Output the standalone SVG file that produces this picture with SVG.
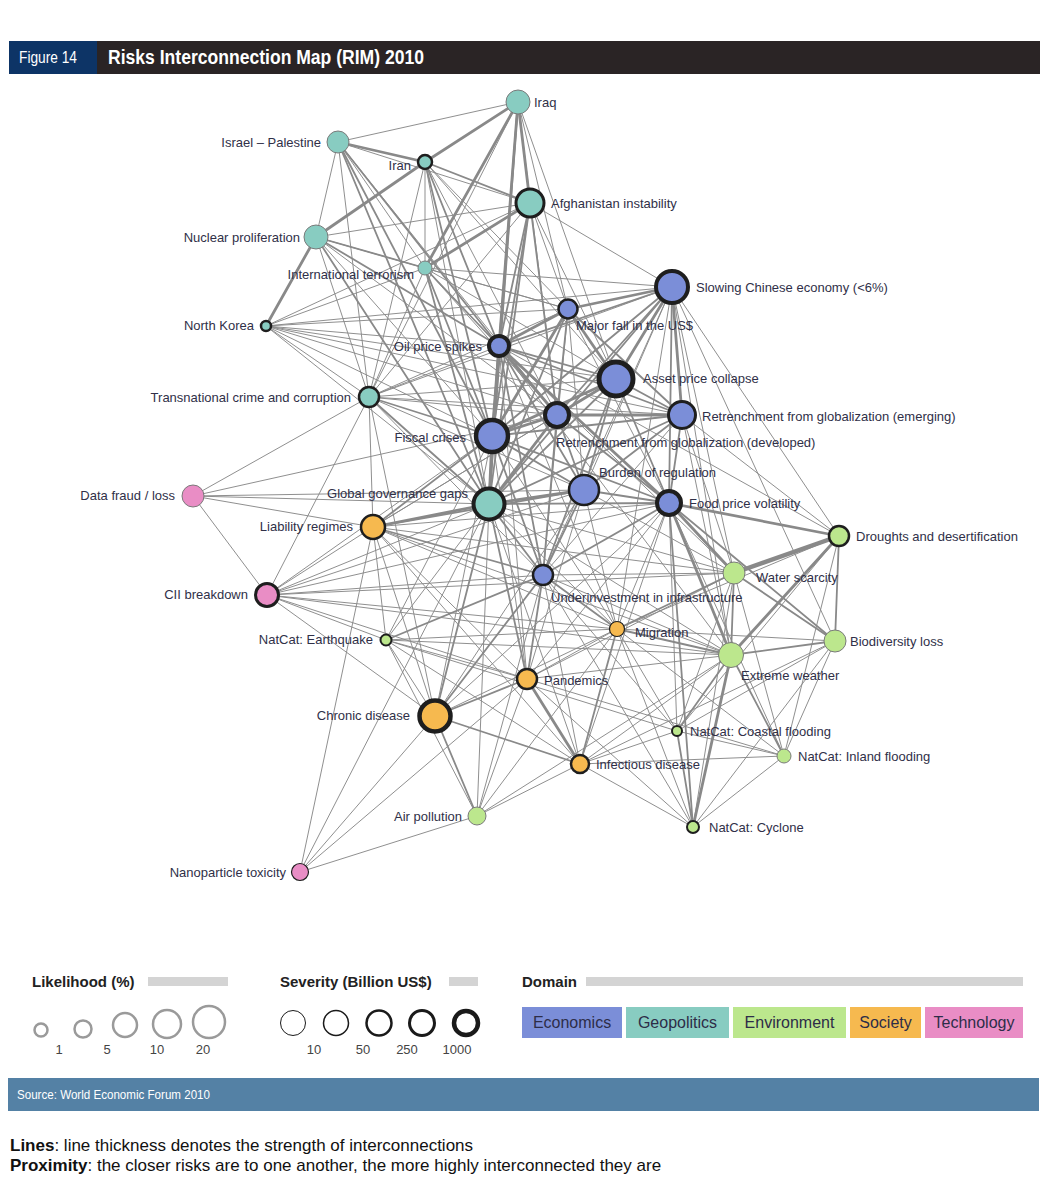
<svg xmlns="http://www.w3.org/2000/svg" width="1059" height="1188" viewBox="0 0 1059 1188">
<style>
text{font-family:"Liberation Sans",Arial,sans-serif;}
.lbl{font-size:13px;fill:#303048;}
.e line{stroke:#898989;stroke-linecap:round;}
.a{stroke-width:0.95}
.b{stroke-width:1.8}
.c{stroke-width:2.8}
.d{stroke-width:4.5}
.eco{fill:#7b8ed8}
.geo{fill:#88ccc1}
.env{fill:#bce78d}
.soc{fill:#f6b94f}
.tec{fill:#e98dc5}
.thin{stroke:#7a7a7a;stroke-width:1}
.dk{stroke:#1e1e1e}
.lh{fill:none;stroke:#9a9a9a;stroke-width:2.5}
.sv{fill:none;stroke:#1a1a1a}
.legt{font-size:15px;font-weight:bold;fill:#222}
.legn{font-size:13px;fill:#444}
.dom{font-size:16px;fill:#2d2d48;text-anchor:middle}
</style>
<rect width="1059" height="1188" fill="#fff"/>
<g id="header">
<rect x="9" y="41" width="1031" height="33" fill="#2a2425"/>
<rect x="9" y="41" width="88" height="33" fill="#0d3466"/>
<text x="19" y="63" font-size="16" fill="#fff" textLength="58" lengthAdjust="spacingAndGlyphs">Figure 14</text>
<text x="108" y="64" font-size="20" font-weight="bold" fill="#fff" textLength="316" lengthAdjust="spacingAndGlyphs">Risks Interconnection Map (RIM) 2010</text>
</g>
<g id="connectors" class="e">
<line class="a" x1="518" y1="102" x2="338" y2="142"/>
<line class="c" x1="518" y1="102" x2="425" y2="162"/>
<line class="c" x1="518" y1="102" x2="530" y2="203"/>
<line class="c" x1="518" y1="102" x2="425" y2="268"/>
<line class="c" x1="518" y1="102" x2="499" y2="346"/>
<line class="a" x1="518" y1="102" x2="568" y2="309"/>
<line class="b" x1="518" y1="102" x2="492" y2="436"/>
<line class="a" x1="518" y1="102" x2="557" y2="415"/>
<line class="a" x1="518" y1="102" x2="616" y2="379"/>
<line class="b" x1="518" y1="102" x2="489" y2="504"/>
<line class="a" x1="518" y1="102" x2="369" y2="397"/>
<line class="c" x1="338" y1="142" x2="425" y2="162"/>
<line class="a" x1="338" y1="142" x2="316" y2="237"/>
<line class="a" x1="338" y1="142" x2="425" y2="268"/>
<line class="b" x1="338" y1="142" x2="499" y2="346"/>
<line class="b" x1="338" y1="142" x2="492" y2="436"/>
<line class="b" x1="338" y1="142" x2="489" y2="504"/>
<line class="a" x1="338" y1="142" x2="369" y2="397"/>
<line class="a" x1="338" y1="142" x2="557" y2="415"/>
<line class="a" x1="338" y1="142" x2="530" y2="203"/>
<line class="c" x1="425" y1="162" x2="316" y2="237"/>
<line class="b" x1="425" y1="162" x2="530" y2="203"/>
<line class="a" x1="425" y1="162" x2="425" y2="268"/>
<line class="b" x1="425" y1="162" x2="499" y2="346"/>
<line class="b" x1="425" y1="162" x2="492" y2="436"/>
<line class="a" x1="425" y1="162" x2="489" y2="504"/>
<line class="a" x1="425" y1="162" x2="568" y2="309"/>
<line class="a" x1="425" y1="162" x2="369" y2="397"/>
<line class="a" x1="425" y1="162" x2="616" y2="379"/>
<line class="a" x1="425" y1="162" x2="557" y2="415"/>
<line class="a" x1="530" y1="203" x2="316" y2="237"/>
<line class="c" x1="530" y1="203" x2="425" y2="268"/>
<line class="b" x1="530" y1="203" x2="499" y2="346"/>
<line class="b" x1="530" y1="203" x2="492" y2="436"/>
<line class="b" x1="530" y1="203" x2="489" y2="504"/>
<line class="a" x1="530" y1="203" x2="568" y2="309"/>
<line class="b" x1="530" y1="203" x2="557" y2="415"/>
<line class="a" x1="530" y1="203" x2="369" y2="397"/>
<line class="a" x1="530" y1="203" x2="266" y2="326"/>
<line class="a" x1="530" y1="203" x2="672" y2="287"/>
<line class="a" x1="530" y1="203" x2="616" y2="379"/>
<line class="c" x1="316" y1="237" x2="266" y2="326"/>
<line class="b" x1="316" y1="237" x2="425" y2="268"/>
<line class="a" x1="316" y1="237" x2="369" y2="397"/>
<line class="b" x1="316" y1="237" x2="499" y2="346"/>
<line class="a" x1="316" y1="237" x2="492" y2="436"/>
<line class="b" x1="316" y1="237" x2="489" y2="504"/>
<line class="a" x1="316" y1="237" x2="568" y2="309"/>
<line class="a" x1="316" y1="237" x2="557" y2="415"/>
<line class="a" x1="425" y1="268" x2="369" y2="397"/>
<line class="b" x1="425" y1="268" x2="499" y2="346"/>
<line class="b" x1="425" y1="268" x2="492" y2="436"/>
<line class="b" x1="425" y1="268" x2="489" y2="504"/>
<line class="a" x1="425" y1="268" x2="266" y2="326"/>
<line class="a" x1="425" y1="268" x2="557" y2="415"/>
<line class="a" x1="425" y1="268" x2="616" y2="379"/>
<line class="a" x1="425" y1="268" x2="568" y2="309"/>
<line class="a" x1="425" y1="268" x2="672" y2="287"/>
<line class="a" x1="266" y1="326" x2="499" y2="346"/>
<line class="a" x1="266" y1="326" x2="492" y2="436"/>
<line class="a" x1="266" y1="326" x2="489" y2="504"/>
<line class="a" x1="266" y1="326" x2="369" y2="397"/>
<line class="a" x1="266" y1="326" x2="568" y2="309"/>
<line class="a" x1="266" y1="326" x2="672" y2="287"/>
<line class="a" x1="266" y1="326" x2="557" y2="415"/>
<line class="a" x1="266" y1="326" x2="616" y2="379"/>
<line class="a" x1="266" y1="326" x2="682" y2="415"/>
<line class="a" x1="369" y1="397" x2="193" y2="496"/>
<line class="a" x1="369" y1="397" x2="267" y2="595"/>
<line class="a" x1="369" y1="397" x2="373" y2="527"/>
<line class="b" x1="369" y1="397" x2="492" y2="436"/>
<line class="b" x1="369" y1="397" x2="489" y2="504"/>
<line class="a" x1="369" y1="397" x2="499" y2="346"/>
<line class="a" x1="369" y1="397" x2="616" y2="379"/>
<line class="a" x1="369" y1="397" x2="557" y2="415"/>
<line class="a" x1="369" y1="397" x2="682" y2="415"/>
<line class="a" x1="369" y1="397" x2="584" y2="490"/>
<line class="a" x1="369" y1="397" x2="672" y2="287"/>
<line class="a" x1="369" y1="397" x2="568" y2="309"/>
<line class="a" x1="369" y1="397" x2="543" y2="575"/>
<line class="a" x1="369" y1="397" x2="435" y2="716"/>
<line class="c" x1="672" y1="287" x2="568" y2="309"/>
<line class="b" x1="672" y1="287" x2="499" y2="346"/>
<line class="c" x1="672" y1="287" x2="616" y2="379"/>
<line class="c" x1="672" y1="287" x2="682" y2="415"/>
<line class="b" x1="672" y1="287" x2="557" y2="415"/>
<line class="b" x1="672" y1="287" x2="492" y2="436"/>
<line class="b" x1="672" y1="287" x2="489" y2="504"/>
<line class="a" x1="672" y1="287" x2="584" y2="490"/>
<line class="b" x1="672" y1="287" x2="669" y2="503"/>
<line class="a" x1="672" y1="287" x2="543" y2="575"/>
<line class="a" x1="672" y1="287" x2="839" y2="536"/>
<line class="a" x1="672" y1="287" x2="734" y2="573"/>
<line class="a" x1="672" y1="287" x2="731" y2="655"/>
<line class="a" x1="672" y1="287" x2="617" y2="629"/>
<line class="a" x1="672" y1="287" x2="835" y2="641"/>
<line class="c" x1="568" y1="309" x2="499" y2="346"/>
<line class="c" x1="568" y1="309" x2="616" y2="379"/>
<line class="b" x1="568" y1="309" x2="557" y2="415"/>
<line class="c" x1="568" y1="309" x2="492" y2="436"/>
<line class="b" x1="568" y1="309" x2="682" y2="415"/>
<line class="b" x1="568" y1="309" x2="489" y2="504"/>
<line class="a" x1="568" y1="309" x2="584" y2="490"/>
<line class="a" x1="568" y1="309" x2="669" y2="503"/>
<line class="a" x1="568" y1="309" x2="543" y2="575"/>
<line class="b" x1="499" y1="346" x2="616" y2="379"/>
<line class="c" x1="499" y1="346" x2="557" y2="415"/>
<line class="c" x1="499" y1="346" x2="492" y2="436"/>
<line class="c" x1="499" y1="346" x2="489" y2="504"/>
<line class="b" x1="499" y1="346" x2="682" y2="415"/>
<line class="c" x1="499" y1="346" x2="669" y2="503"/>
<line class="b" x1="499" y1="346" x2="584" y2="490"/>
<line class="b" x1="499" y1="346" x2="543" y2="575"/>
<line class="a" x1="499" y1="346" x2="734" y2="573"/>
<line class="a" x1="499" y1="346" x2="731" y2="655"/>
<line class="a" x1="499" y1="346" x2="617" y2="629"/>
<line class="a" x1="499" y1="346" x2="527" y2="679"/>
<line class="a" x1="499" y1="346" x2="839" y2="536"/>
<line class="c" x1="616" y1="379" x2="557" y2="415"/>
<line class="c" x1="616" y1="379" x2="492" y2="436"/>
<line class="b" x1="616" y1="379" x2="682" y2="415"/>
<line class="b" x1="616" y1="379" x2="489" y2="504"/>
<line class="b" x1="616" y1="379" x2="584" y2="490"/>
<line class="b" x1="616" y1="379" x2="669" y2="503"/>
<line class="b" x1="616" y1="379" x2="543" y2="575"/>
<line class="a" x1="616" y1="379" x2="373" y2="527"/>
<line class="c" x1="557" y1="415" x2="492" y2="436"/>
<line class="c" x1="557" y1="415" x2="682" y2="415"/>
<line class="c" x1="557" y1="415" x2="489" y2="504"/>
<line class="b" x1="557" y1="415" x2="584" y2="490"/>
<line class="b" x1="557" y1="415" x2="669" y2="503"/>
<line class="b" x1="557" y1="415" x2="543" y2="575"/>
<line class="a" x1="557" y1="415" x2="373" y2="527"/>
<line class="b" x1="682" y1="415" x2="492" y2="436"/>
<line class="b" x1="682" y1="415" x2="489" y2="504"/>
<line class="b" x1="682" y1="415" x2="669" y2="503"/>
<line class="b" x1="682" y1="415" x2="584" y2="490"/>
<line class="a" x1="682" y1="415" x2="543" y2="575"/>
<line class="a" x1="682" y1="415" x2="839" y2="536"/>
<line class="a" x1="682" y1="415" x2="734" y2="573"/>
<line class="a" x1="682" y1="415" x2="731" y2="655"/>
<line class="c" x1="492" y1="436" x2="489" y2="504"/>
<line class="b" x1="492" y1="436" x2="584" y2="490"/>
<line class="b" x1="492" y1="436" x2="669" y2="503"/>
<line class="b" x1="492" y1="436" x2="543" y2="575"/>
<line class="b" x1="492" y1="436" x2="373" y2="527"/>
<line class="a" x1="492" y1="436" x2="527" y2="679"/>
<line class="a" x1="492" y1="436" x2="435" y2="716"/>
<line class="a" x1="492" y1="436" x2="617" y2="629"/>
<line class="a" x1="492" y1="436" x2="267" y2="595"/>
<line class="a" x1="492" y1="436" x2="386" y2="640"/>
<line class="c" x1="489" y1="504" x2="584" y2="490"/>
<line class="b" x1="489" y1="504" x2="669" y2="503"/>
<line class="c" x1="489" y1="504" x2="373" y2="527"/>
<line class="b" x1="489" y1="504" x2="543" y2="575"/>
<line class="b" x1="489" y1="504" x2="527" y2="679"/>
<line class="b" x1="489" y1="504" x2="435" y2="716"/>
<line class="a" x1="489" y1="504" x2="617" y2="629"/>
<line class="a" x1="489" y1="504" x2="580" y2="764"/>
<line class="a" x1="489" y1="504" x2="731" y2="655"/>
<line class="a" x1="489" y1="504" x2="734" y2="573"/>
<line class="a" x1="489" y1="504" x2="267" y2="595"/>
<line class="a" x1="489" y1="504" x2="386" y2="640"/>
<line class="a" x1="489" y1="504" x2="193" y2="496"/>
<line class="a" x1="489" y1="504" x2="477" y2="816"/>
<line class="a" x1="489" y1="504" x2="300" y2="872"/>
<line class="b" x1="584" y1="490" x2="669" y2="503"/>
<line class="b" x1="584" y1="490" x2="543" y2="575"/>
<line class="b" x1="584" y1="490" x2="373" y2="527"/>
<line class="a" x1="584" y1="490" x2="435" y2="716"/>
<line class="a" x1="584" y1="490" x2="527" y2="679"/>
<line class="a" x1="584" y1="490" x2="617" y2="629"/>
<line class="a" x1="584" y1="490" x2="193" y2="496"/>
<line class="a" x1="584" y1="490" x2="267" y2="595"/>
<line class="a" x1="584" y1="490" x2="734" y2="573"/>
<line class="b" x1="669" y1="503" x2="543" y2="575"/>
<line class="c" x1="669" y1="503" x2="839" y2="536"/>
<line class="c" x1="669" y1="503" x2="734" y2="573"/>
<line class="c" x1="669" y1="503" x2="731" y2="655"/>
<line class="b" x1="669" y1="503" x2="835" y2="641"/>
<line class="a" x1="669" y1="503" x2="617" y2="629"/>
<line class="b" x1="669" y1="503" x2="693" y2="827"/>
<line class="a" x1="669" y1="503" x2="677" y2="731"/>
<line class="a" x1="669" y1="503" x2="784" y2="756"/>
<line class="a" x1="669" y1="503" x2="527" y2="679"/>
<line class="a" x1="669" y1="503" x2="580" y2="764"/>
<line class="a" x1="669" y1="503" x2="435" y2="716"/>
<line class="a" x1="669" y1="503" x2="373" y2="527"/>
<line class="a" x1="543" y1="575" x2="734" y2="573"/>
<line class="a" x1="543" y1="575" x2="731" y2="655"/>
<line class="b" x1="543" y1="575" x2="617" y2="629"/>
<line class="b" x1="543" y1="575" x2="527" y2="679"/>
<line class="b" x1="543" y1="575" x2="435" y2="716"/>
<line class="a" x1="543" y1="575" x2="580" y2="764"/>
<line class="b" x1="543" y1="575" x2="373" y2="527"/>
<line class="b" x1="543" y1="575" x2="386" y2="640"/>
<line class="a" x1="543" y1="575" x2="267" y2="595"/>
<line class="a" x1="543" y1="575" x2="677" y2="731"/>
<line class="a" x1="543" y1="575" x2="693" y2="827"/>
<line class="a" x1="543" y1="575" x2="477" y2="816"/>
<line class="d" x1="839" y1="536" x2="734" y2="573"/>
<line class="c" x1="839" y1="536" x2="731" y2="655"/>
<line class="b" x1="839" y1="536" x2="835" y2="641"/>
<line class="a" x1="839" y1="536" x2="617" y2="629"/>
<line class="a" x1="839" y1="536" x2="677" y2="731"/>
<line class="a" x1="839" y1="536" x2="784" y2="756"/>
<line class="b" x1="734" y1="573" x2="731" y2="655"/>
<line class="b" x1="734" y1="573" x2="835" y2="641"/>
<line class="b" x1="734" y1="573" x2="617" y2="629"/>
<line class="a" x1="734" y1="573" x2="784" y2="756"/>
<line class="a" x1="734" y1="573" x2="677" y2="731"/>
<line class="a" x1="734" y1="573" x2="693" y2="827"/>
<line class="a" x1="734" y1="573" x2="527" y2="679"/>
<line class="a" x1="734" y1="573" x2="373" y2="527"/>
<line class="a" x1="734" y1="573" x2="267" y2="595"/>
<line class="b" x1="835" y1="641" x2="731" y2="655"/>
<line class="a" x1="835" y1="641" x2="784" y2="756"/>
<line class="a" x1="835" y1="641" x2="677" y2="731"/>
<line class="a" x1="835" y1="641" x2="693" y2="827"/>
<line class="a" x1="835" y1="641" x2="617" y2="629"/>
<line class="a" x1="835" y1="641" x2="580" y2="764"/>
<line class="b" x1="731" y1="655" x2="677" y2="731"/>
<line class="b" x1="731" y1="655" x2="784" y2="756"/>
<line class="c" x1="731" y1="655" x2="693" y2="827"/>
<line class="b" x1="731" y1="655" x2="617" y2="629"/>
<line class="a" x1="731" y1="655" x2="580" y2="764"/>
<line class="a" x1="731" y1="655" x2="527" y2="679"/>
<line class="a" x1="731" y1="655" x2="386" y2="640"/>
<line class="a" x1="731" y1="655" x2="373" y2="527"/>
<line class="a" x1="731" y1="655" x2="477" y2="816"/>
<line class="b" x1="677" y1="731" x2="693" y2="827"/>
<line class="a" x1="677" y1="731" x2="784" y2="756"/>
<line class="a" x1="677" y1="731" x2="580" y2="764"/>
<line class="a" x1="677" y1="731" x2="617" y2="629"/>
<line class="a" x1="677" y1="731" x2="386" y2="640"/>
<line class="a" x1="784" y1="756" x2="693" y2="827"/>
<line class="a" x1="784" y1="756" x2="580" y2="764"/>
<line class="a" x1="784" y1="756" x2="527" y2="679"/>
<line class="a" x1="784" y1="756" x2="617" y2="629"/>
<line class="a" x1="693" y1="827" x2="580" y2="764"/>
<line class="a" x1="693" y1="827" x2="617" y2="629"/>
<line class="a" x1="693" y1="827" x2="527" y2="679"/>
<line class="a" x1="386" y1="640" x2="267" y2="595"/>
<line class="a" x1="386" y1="640" x2="373" y2="527"/>
<line class="a" x1="386" y1="640" x2="435" y2="716"/>
<line class="a" x1="386" y1="640" x2="527" y2="679"/>
<line class="a" x1="386" y1="640" x2="617" y2="629"/>
<line class="a" x1="386" y1="640" x2="580" y2="764"/>
<line class="a" x1="386" y1="640" x2="477" y2="816"/>
<line class="c" x1="527" y1="679" x2="580" y2="764"/>
<line class="b" x1="527" y1="679" x2="435" y2="716"/>
<line class="a" x1="527" y1="679" x2="617" y2="629"/>
<line class="a" x1="527" y1="679" x2="373" y2="527"/>
<line class="a" x1="527" y1="679" x2="477" y2="816"/>
<line class="a" x1="527" y1="679" x2="267" y2="595"/>
<line class="a" x1="527" y1="679" x2="300" y2="872"/>
<line class="b" x1="435" y1="716" x2="580" y2="764"/>
<line class="b" x1="435" y1="716" x2="477" y2="816"/>
<line class="a" x1="435" y1="716" x2="300" y2="872"/>
<line class="a" x1="435" y1="716" x2="373" y2="527"/>
<line class="a" x1="435" y1="716" x2="617" y2="629"/>
<line class="a" x1="435" y1="716" x2="267" y2="595"/>
<line class="a" x1="580" y1="764" x2="477" y2="816"/>
<line class="b" x1="580" y1="764" x2="617" y2="629"/>
<line class="a" x1="580" y1="764" x2="373" y2="527"/>
<line class="a" x1="477" y1="816" x2="617" y2="629"/>
<line class="a" x1="477" y1="816" x2="300" y2="872"/>
<line class="a" x1="373" y1="527" x2="267" y2="595"/>
<line class="a" x1="373" y1="527" x2="193" y2="496"/>
<line class="a" x1="373" y1="527" x2="617" y2="629"/>
<line class="a" x1="373" y1="527" x2="300" y2="872"/>
<line class="a" x1="617" y1="629" x2="267" y2="595"/>
<line class="a" x1="193" y1="496" x2="557" y2="415"/>
<line class="a" x1="193" y1="496" x2="267" y2="595"/>
<line class="a" x1="267" y1="595" x2="731" y2="655"/>
<line class="a" x1="267" y1="595" x2="669" y2="503"/>
</g>
<g id="n-iraq"><circle class="geo thin" cx="518" cy="102" r="12"/><text class="lbl" x="534" y="107">Iraq</text></g>
<g id="n-israel"><circle class="geo thin" cx="338" cy="142" r="11"/><text class="lbl" x="321" y="147" text-anchor="end">Israel – Palestine</text></g>
<g id="n-iran"><circle class="geo dk" stroke-width="2.5" cx="425" cy="162" r="7"/><text class="lbl" x="411" y="170" text-anchor="end">Iran</text></g>
<g id="n-afghanistan"><circle class="geo dk" stroke-width="3" cx="530" cy="203" r="14"/><text class="lbl" x="551" y="208">Afghanistan instability</text></g>
<g id="n-nuclear"><circle class="geo thin" cx="316" cy="237" r="12"/><text class="lbl" x="300" y="242" text-anchor="end">Nuclear proliferation</text></g>
<g id="n-terrorism"><circle class="geo thin" cx="425" cy="268" r="7"/><text class="lbl" x="414" y="279" text-anchor="end">International terrorism</text></g>
<g id="n-northkorea"><circle class="geo dk" stroke-width="2.5" cx="266" cy="326" r="5"/><text class="lbl" x="254" y="330" text-anchor="end">North Korea</text></g>
<g id="n-crime"><circle class="geo dk" stroke-width="2.5" cx="369" cy="397" r="10"/><text class="lbl" x="351" y="402" text-anchor="end">Transnational crime and corruption</text></g>
<g id="n-governance"><circle class="geo dk" stroke-width="4" cx="489" cy="504" r="15.5"/><text class="lbl" x="468" y="498" text-anchor="end">Global governance gaps</text></g>
<g id="n-china"><circle class="eco dk" stroke-width="4" cx="672" cy="287" r="16"/><text class="lbl" x="696" y="292">Slowing Chinese economy (&lt;6%)</text></g>
<g id="n-usd"><circle class="eco dk" stroke-width="2.5" cx="568" cy="309" r="9.5"/><text class="lbl" x="576" y="330">Major fall in the US$</text></g>
<g id="n-oil"><circle class="eco dk" stroke-width="4" cx="499" cy="346" r="10"/><text class="lbl" x="482" y="351" text-anchor="end">Oil price spikes</text></g>
<g id="n-asset"><circle class="eco dk" stroke-width="5" cx="616" cy="379" r="17"/><text class="lbl" x="643" y="383">Asset price collapse</text></g>
<g id="n-retrench-em"><circle class="eco dk" stroke-width="3" cx="682" cy="415" r="13.5"/><text class="lbl" x="702" y="421">Retrenchment from globalization (emerging)</text></g>
<g id="n-retrench-dev"><circle class="eco dk" stroke-width="4" cx="557" cy="415" r="12"/><text class="lbl" x="556" y="447">Retrenchment from globalization (developed)</text></g>
<g id="n-fiscal"><circle class="eco dk" stroke-width="4.5" cx="492" cy="436" r="16"/><text class="lbl" x="466" y="442" text-anchor="end">Fiscal crises</text></g>
<g id="n-regulation"><circle class="eco dk" stroke-width="2.5" cx="584" cy="490" r="15"/><text class="lbl" x="599" y="477">Burden of regulation</text></g>
<g id="n-food"><circle class="eco dk" stroke-width="4" cx="669" cy="503" r="12"/><text class="lbl" x="689" y="508">Food price volatility</text></g>
<g id="n-infra"><circle class="eco dk" stroke-width="2.5" cx="543" cy="575" r="10"/><text class="lbl" x="551" y="602">Underinvestment in infrastructure</text></g>
<g id="n-droughts"><circle class="env dk" stroke-width="2.5" cx="839" cy="536" r="10"/><text class="lbl" x="856" y="541">Droughts and desertification</text></g>
<g id="n-water"><circle class="env thin" cx="734" cy="573" r="11"/><text class="lbl" x="756" y="582">Water scarcity</text></g>
<g id="n-biodiversity"><circle class="env thin" cx="835" cy="641" r="11"/><text class="lbl" x="850" y="646">Biodiversity loss</text></g>
<g id="n-weather"><circle class="env thin" cx="731" cy="655" r="12.5"/><text class="lbl" x="741" y="680">Extreme weather</text></g>
<g id="n-coastal"><circle class="env dk" stroke-width="2" cx="677" cy="731" r="5"/><text class="lbl" x="690" y="736">NatCat: Coastal flooding</text></g>
<g id="n-inland"><circle class="env thin" cx="784" cy="756" r="7"/><text class="lbl" x="798" y="761">NatCat: Inland flooding</text></g>
<g id="n-cyclone"><circle class="env dk" stroke-width="2" cx="693" cy="827" r="6"/><text class="lbl" x="709" y="832">NatCat: Cyclone</text></g>
<g id="n-earthquake"><circle class="env dk" stroke-width="2" cx="386" cy="640" r="5.5"/><text class="lbl" x="373" y="644" text-anchor="end">NatCat: Earthquake</text></g>
<g id="n-air"><circle class="env thin" cx="477" cy="816" r="9"/><text class="lbl" x="462" y="821" text-anchor="end">Air pollution</text></g>
<g id="n-liability"><circle class="soc dk" stroke-width="2.5" cx="373" cy="527" r="12"/><text class="lbl" x="353" y="531" text-anchor="end">Liability regimes</text></g>
<g id="n-migration"><circle class="soc dk" stroke-width="1.2" cx="617" cy="629" r="7.5"/><text class="lbl" x="635" y="637">Migration</text></g>
<g id="n-pandemics"><circle class="soc dk" stroke-width="2.5" cx="527" cy="679" r="10"/><text class="lbl" x="544" y="685">Pandemics</text></g>
<g id="n-chronic"><circle class="soc dk" stroke-width="4.5" cx="435" cy="716" r="15.5"/><text class="lbl" x="410" y="720" text-anchor="end">Chronic disease</text></g>
<g id="n-infectious"><circle class="soc dk" stroke-width="2.5" cx="580" cy="764" r="9"/><text class="lbl" x="596" y="769">Infectious disease</text></g>
<g id="n-datafraud"><circle class="tec thin" cx="193" cy="496" r="11"/><text class="lbl" x="175" y="500" text-anchor="end">Data fraud / loss</text></g>
<g id="n-cii"><circle class="tec dk" stroke-width="3" cx="267" cy="595" r="11.5"/><text class="lbl" x="248" y="599" text-anchor="end">CII breakdown</text></g>
<g id="n-nano"><circle class="tec dk" stroke-width="1.2" cx="300" cy="872" r="8.5"/><text class="lbl" x="286" y="877" text-anchor="end">Nanoparticle toxicity</text></g>
<g id="legend">
<text class="legt" x="32" y="987">Likelihood (%)</text>
<rect x="148" y="977" width="80" height="9" fill="#d4d4d4"/>
<circle class="lh" cx="41" cy="1030" r="6.5"/>
<circle class="lh" cx="83" cy="1029" r="8.5"/>
<circle class="lh" cx="125" cy="1025" r="12"/>
<circle class="lh" cx="167" cy="1024" r="14"/>
<circle class="lh" cx="209" cy="1022" r="16"/>
<text class="legn" x="59" y="1054" text-anchor="middle">1</text>
<text class="legn" x="107" y="1054" text-anchor="middle">5</text>
<text class="legn" x="157" y="1054" text-anchor="middle">10</text>
<text class="legn" x="203" y="1054" text-anchor="middle">20</text>
<text class="legt" x="280" y="987">Severity (Billion US$)</text>
<rect x="449" y="977" width="29" height="9" fill="#d4d4d4"/>
<circle class="sv" stroke-width="1" cx="293" cy="1023" r="12.5"/>
<circle class="sv" stroke-width="1.5" cx="336" cy="1023" r="12.5"/>
<circle class="sv" stroke-width="2.5" cx="379" cy="1023" r="12.5"/>
<circle class="sv" stroke-width="3" cx="422" cy="1023" r="12.5"/>
<circle class="sv" stroke-width="4.5" cx="466" cy="1023" r="12"/>
<text class="legn" x="314" y="1054" text-anchor="middle">10</text>
<text class="legn" x="363" y="1054" text-anchor="middle">50</text>
<text class="legn" x="407" y="1054" text-anchor="middle">250</text>
<text class="legn" x="457" y="1054" text-anchor="middle">1000</text>
<text class="legt" x="522" y="987">Domain</text>
<rect x="586" y="977" width="437" height="9" fill="#d4d4d4"/>
<rect x="522" y="1007" width="100" height="31" fill="#7b8ed8"/>
<rect x="626" y="1007" width="103" height="31" fill="#88ccc1"/>
<rect x="733" y="1007" width="113" height="31" fill="#bce78d"/>
<rect x="850" y="1007" width="71" height="31" fill="#f6b94f"/>
<rect x="925" y="1007" width="98" height="31" fill="#e98dc5"/>
<text class="dom" x="572" y="1028">Economics</text>
<text class="dom" x="677.5" y="1028">Geopolitics</text>
<text class="dom" x="789.5" y="1028">Environment</text>
<text class="dom" x="885.5" y="1028">Society</text>
<text class="dom" x="974" y="1028">Technology</text>
</g>
<g id="source">
<rect x="8" y="1078" width="1031" height="33" fill="#5481a5"/>
<text x="17" y="1099" font-size="13" fill="#fff" textLength="193" lengthAdjust="spacingAndGlyphs">Source: World Economic Forum 2010</text>
</g>
<g id="notes" font-size="17" fill="#111">
<text x="10" y="1151"><tspan font-weight="bold">Lines</tspan>: line thickness denotes the strength of interconnections</text>
<text x="10" y="1171"><tspan font-weight="bold">Proximity</tspan>: the closer risks are to one another, the more highly interconnected they are</text>
</g>
</svg>
